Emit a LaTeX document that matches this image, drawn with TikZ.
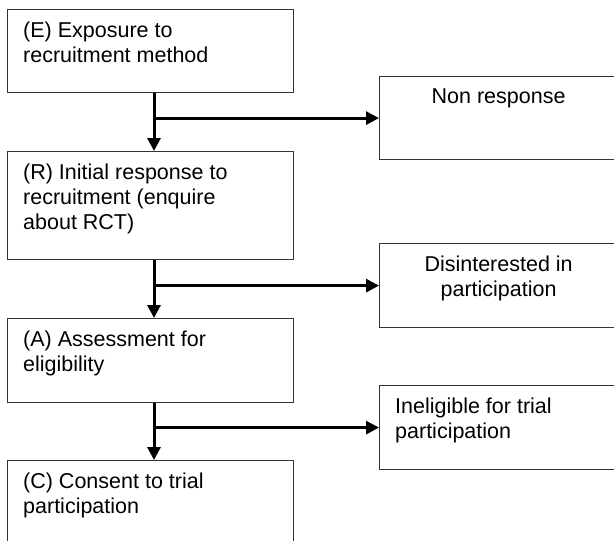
\documentclass[tikz,border=0pt]{standalone}
\usepackage{fontspec}
\setmainfont{Liberation Sans}
\usetikzlibrary{arrows.meta}

\begin{document}
\begin{tikzpicture}[x=1pt, y=-1pt,
    box/.style={draw=black!80, line width=1.2pt, anchor=north west, inner sep=0pt},
    txt/.style={inner sep=0pt, font=\fontsize{21.5}{25}\selectfont, align=left, anchor=north west},
    flow/.style={line width=3pt, -{Triangle[length=13pt, width=13pt]}}]
    % Fix the page to the picture
    \clip (0,0) rectangle (614,541);

    % Left column of stages
    \node[box, minimum width=286pt, minimum height=83pt] (expo) at (7,9) {};
    \node[box, minimum width=286pt, minimum height=108pt] (resp) at (7,151) {};
    \node[box, minimum width=286pt, minimum height=84pt] (assess) at (7,318) {};
    \node[box, minimum width=286pt, minimum height=90pt] (consent) at (7,460) {};

    % Right column of losses
    \node[box, minimum width=238pt, minimum height=83pt] (nonresp) at (379,76) {};
    \node[box, minimum width=238pt, minimum height=84pt] (disint) at (379,243) {};
    \node[box, minimum width=238pt, minimum height=84pt] (inelig) at (379,385) {};

    % Texts
    \node[txt] (expotext) at ([shift={(16,12.5)}]expo.north west) {(E) Exposure to\\recruitment method};
    \node[txt] (resptext) at ([shift={(16,12.5)}]resp.north west) {(R) Initial response to\\recruitment (enquire\\about RCT)};
    \node[txt] (assesstext) at ([shift={(16,12.5)}]assess.north west) {(A) Assessment for\\eligibility};
    \node[txt] (consenttext) at ([shift={(16,12.5)}]consent.north west) {(C) Consent to trial\\participation};
    \node[txt, anchor=north, align=center] (nonresptext) at ([shift={(0,12.5)}]nonresp.north) {Non response};
    \node[txt, anchor=north, align=center] (disinttext) at ([shift={(0,12.5)}]disint.north) {Disinterested in\\participation};
    \node[txt] (ineligtext) at ([shift={(16,12.5)}]inelig.north west) {Ineligible for trial\\participation};

    % Arrows
    \coordinate (spine) at (154,0);
    \draw[flow] (expo.south -| spine) -- (resp.north -| spine);
    \draw[flow] (resp.south -| spine) -- (assess.north -| spine);
    \draw[flow] (assess.south -| spine) -- (consent.north -| spine);
    \draw[flow] (nonresp.west -| spine) -- (nonresp.west);
    \draw[flow] (disint.west -| spine) -- (disint.west);
    \draw[flow] (inelig.west -| spine) -- (inelig.west);
\end{tikzpicture}
\end{document}
